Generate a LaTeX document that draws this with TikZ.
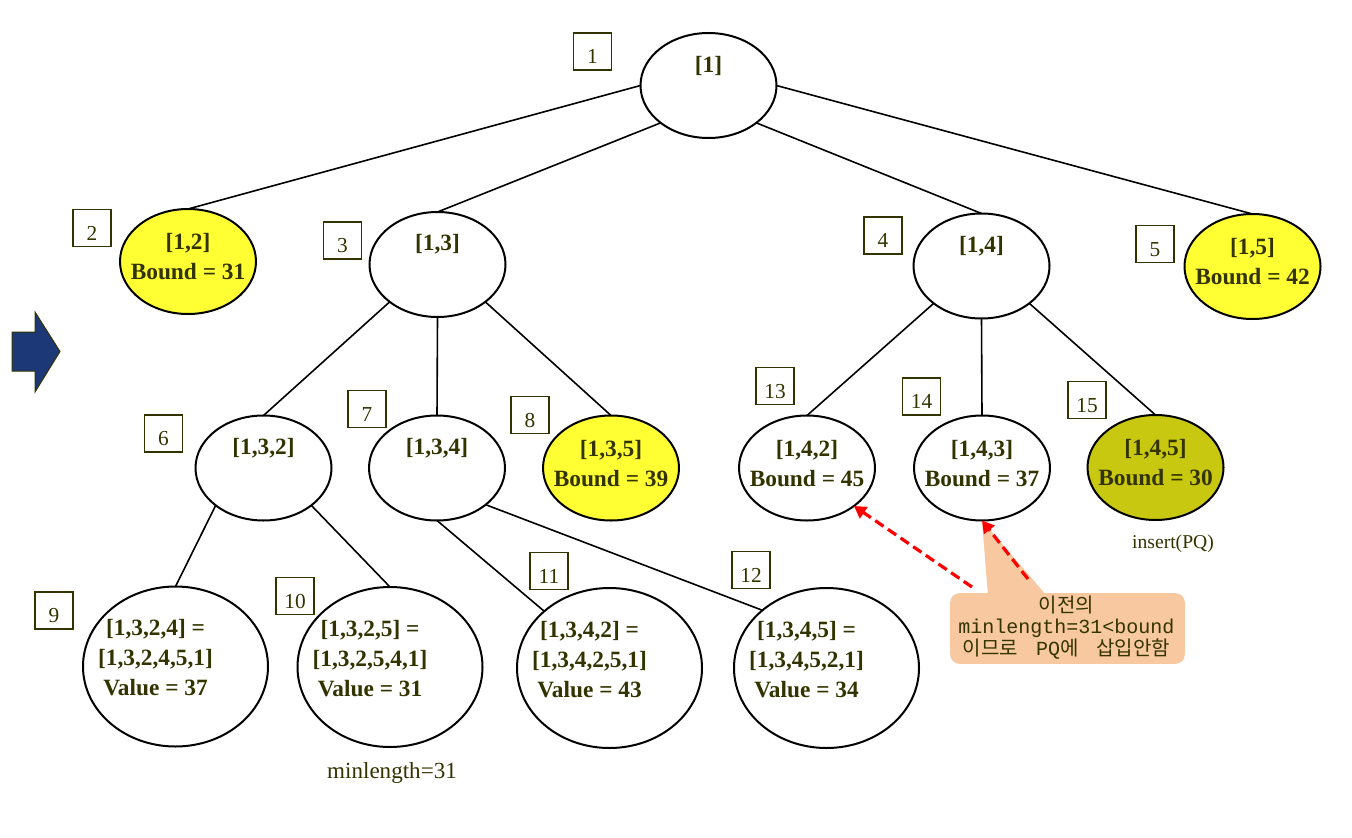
\documentclass[tikz,border=0pt]{standalone}
\usepackage{fontspec}
\setmainfont{Liberation Serif}
\newfontfamily\krfont{Noto Sans CJK KR}
\newfontfamily\cofont{Liberation Mono}
\usetikzlibrary{shapes.geometric,arrows.meta,calc}

\definecolor{txtolive}{RGB}{51,51,0}
\definecolor{boundyel}{RGB}{255,255,51}
\definecolor{pickolive}{RGB}{200,200,16}
\definecolor{notepeach}{RGB}{248,200,160}
\definecolor{arrnavy}{RGB}{28,56,118}

\tikzset{every picture/.style={line width=1.2pt}}
\tikzset{
  ell/.style={draw, ellipse, line width=1.5pt, inner sep=0pt, outer sep=0pt, minimum width=102pt, minimum height=78.75pt},
  leaf/.style={ell, minimum width=138.75pt, minimum height=120pt},
  nodetext/.style={text=txtolive, align=center, inner sep=0pt, font=\bfseries\fontsize{17.5}{22.5}\selectfont},
  plaintext/.style={text=txtolive, inner sep=0pt},
  numbox/.style={draw=txtolive, line width=0.9pt, text=txtolive, minimum width=28.5pt, minimum height=27.75pt, inner sep=1pt, text height=18.2pt, text depth=0pt, font=\fontsize{16}{18}\selectfont},
  redarr/.style={draw=red, line width=2.4pt, dash pattern=on 7.5pt off 4pt, -{Triangle[length=9pt,width=10pt]}},
}

\begin{document}
\begin{tikzpicture}[x=0.75pt,y=0.75pt,yscale=-1,xscale=1]
\useasboundingbox (0,0) rectangle (1352,838);

%Shape: Ellipse
\node[ell] (n1) at (708.5,85.5) {};
\node[ell, fill=boundyel] (n12) at (188,261.5) {};
\node[ell] (n13) at (437.5,264.5) {};
\node[ell] (n14) at (981.5,266) {};
\node[ell, fill=boundyel] (n15) at (1252.5,266.5) {};
\node[ell] (n132) at (263.5,468) {};
\node[ell] (n134) at (437,468) {};
\node[ell, fill=boundyel] (n135) at (611,468) {};
\node[ell] (n142) at (807,468) {};
\node[ell] (n143) at (982,468) {};
\node[ell, fill=pickolive] (n145) at (1155.5,467.5) {};
\node[leaf] (n1324) at (175.5,666.5) {};
\node[leaf] (n1325) at (390,667) {};
\node[leaf] (n1342) at (609.5,668) {};
\node[leaf] (n1345) at (826.5,668) {};

%Straight Lines
\draw (n1.west) -- (n12.north);
\draw (n1.218) -- (n13.north);
\draw (n1.322) -- (n14.north);
\draw (n1.east) -- (n15.north);
\draw (n13.218) -- (n132.north);
\draw (n13.south) -- (n134.north);
\draw (n13.322) -- (n135.north);
\draw (n14.218) -- (n142.north);
\draw (n14.south) -- (n143.north);
\draw (n14.322) -- (n145.north);
\draw (n132.218) -- (n1324.north);
\draw (n132.322) -- (n1325.north);
\draw (n134.south) -- (n1342.139);
\draw (n134.323) -- (n1345.138);

% Text Node
\node[nodetext] (t1) at ($(n1)+(0,-20)$) {[1]};
\node[nodetext] (t12) at ($(n12)+(0,-4.5)$) {[1,2]\\Bound = 31};
\node[nodetext] (t13) at ($(n13)+(0,-20)$) {[1,3]};
\node[nodetext] (t14) at ($(n14)+(0,-20)$) {[1,4]};
\node[nodetext] (t15) at ($(n15)+(0,-4.5)$) {[1,5]\\Bound = 42};
\node[nodetext] (t132) at ($(n132)+(0,-20)$) {[1,3,2]};
\node[nodetext] (t134) at ($(n134)+(0,-20)$) {[1,3,4]};
\node[nodetext] (t135) at ($(n135)+(0,-4.5)$) {[1,3,5]\\Bound = 39};
\node[nodetext] (t142) at ($(n142)+(0,-4.5)$) {[1,4,2]\\Bound = 45};
\node[nodetext] (t143) at ($(n143)+(0,-4.5)$) {[1,4,3]\\Bound = 37};
\node[nodetext] (t145) at ($(n145)+(0,-4.5)$) {[1,4,5]\\Bound = 30};
\node[nodetext] (t1324) at ($(n1324)+(-20,-8.5)$) {[1,3,2,4] =\\{}[1,3,2,4,5,1]\\Value = 37};
\node[nodetext] (t1325) at ($(n1325)+(-20,-8.5)$) {[1,3,2,5] =\\{}[1,3,2,5,4,1]\\Value = 31};
\node[nodetext] (t1342) at ($(n1342)+(-20,-8.5)$) {[1,3,4,2] =\\{}[1,3,4,2,5,1]\\Value = 43};
\node[nodetext] (t1345) at ($(n1345)+(-20,-8.5)$) {[1,3,4,5] =\\{}[1,3,4,5,2,1]\\Value = 34};

%Shape: Rectangle
\node[numbox] (b1) at (592.5,51.5) {1};
\node[numbox] (b2) at (92,228) {2};
\node[numbox] (b3) at (342.5,240.5) {3};
\node[numbox] (b4) at (883,235.5) {4};
\node[numbox] (b5) at (1155,244) {5};
\node[numbox] (b6) at (163.5,433.5) {6};
\node[numbox] (b7) at (367,409) {7};
\node[numbox] (b8) at (530,415) {8};
\node[numbox] (b9) at (54,610.5) {9};
\node[numbox] (b10) at (295,596) {10};
\node[numbox] (b11) at (549,571) {11};
\node[numbox] (b12) at (751,570) {12};
\node[numbox] (b13) at (775,386) {13};
\node[numbox] (b14) at (921.5,396.5) {14};
\node[numbox] (b15) at (1087,400) {15};

%Shape: Right Arrow
\draw[draw=txtolive, line width=0.75pt, fill=arrnavy] (12,332) -- (35,332) -- (35,312) -- (60,351.5) -- (35,392) -- (35,371) -- (12,371) -- cycle;

%Shape: Callout
\node[fill=notepeach, rounded corners=7pt, inner sep=0pt, minimum width=176pt, minimum height=53pt] (note) at (1067.5,628.5) {};
\fill[notepeach] (988,596) -- (n143.south) -- (1047,596) -- cycle;
\node[plaintext, align=center, font=\fontsize{15}{16}\selectfont] (notetxt) at (1066.5,627.5) {{\krfont 이전의}\\{\cofont minlength=31<bound}\\{\krfont 이므로}\hspace{13.5pt}{\cofont PQ}{\krfont 에}\hspace{13.5pt}{\krfont 삽입안함}};

%Dashed Arrows
\coordinate (tailA) at (972,587);
\coordinate (tailB) at (1028,579);
\draw[redarr] (tailA) -- (n142.321);
\draw[redarr] (tailB) -- (n143.south);

% Text Node
\node[plaintext, font=\fontsize{14.7}{17}\selectfont] (ins) at (1173,544) {insert(PQ)};
\node[plaintext, font=\fontsize{17.3}{20}\selectfont] (minl) at (392,773) {minlength=31};
\end{tikzpicture}
\end{document}
